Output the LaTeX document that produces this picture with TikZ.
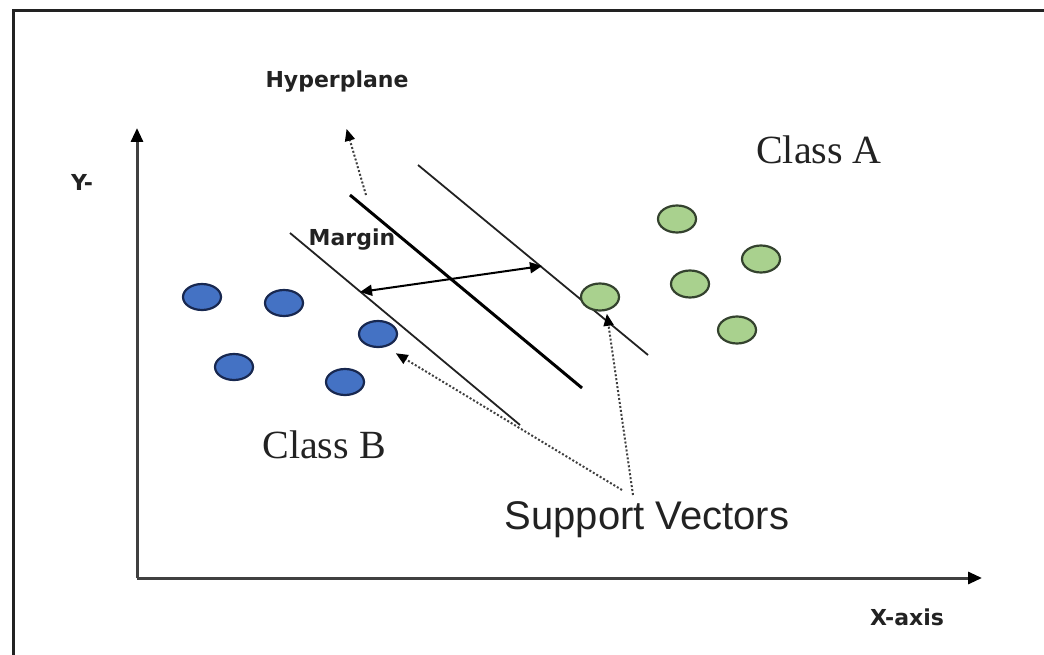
\documentclass[tikz,border=0pt]{standalone}
\usepackage{fontspec}
\setmainfont{Liberation Serif}
\newfontfamily\labelfont{DejaVu Sans}
\newfontfamily\vecfont{Liberation Sans}
\usetikzlibrary{arrows.meta,shapes.geometric,positioning}
\definecolor{svmBlue}{RGB}{68,114,196}
\definecolor{svmBlueDark}{RGB}{24,40,80}
\definecolor{svmGreen}{RGB}{169,209,142}
\definecolor{svmGreenDark}{RGB}{52,66,46}
\definecolor{svmGray}{RGB}{64,64,64}
\definecolor{svmInk}{RGB}{34,34,34}

\begin{document}
\begin{tikzpicture}[x=1pt,y=-1pt,
    classb/.style={ellipse,draw=svmBlueDark,fill=svmBlue,line width=2.2pt,
        minimum width=38pt,minimum height=26pt,inner sep=0pt},
    classa/.style={ellipse,draw=svmGreenDark,fill=svmGreen,line width=2.2pt,
        minimum width=38pt,minimum height=27pt,inner sep=0pt},
    axis/.style={svmGray,line width=3pt,-{Triangle[length=14pt,width=12pt,color=black]}},
    marginline/.style={svmInk,line width=1.8pt},
    hyperline/.style={black,line width=3pt},
    dotarrow/.style={svmGray,line width=2pt,dash pattern=on 2pt off 2pt,
        -{Triangle[length=12pt,width=10pt,color=black]}},
    smalllabel/.style={text=svmInk,font=\labelfont\bfseries\fontsize{22}{26}\selectfont},
    biglabel/.style={text=svmInk,font=\fontsize{40}{48}\selectfont}]

    \useasboundingbox (0,0) rectangle (1044,655);

    % frame
    \draw[svmInk, line width=3pt] (13,655) -- (13,11) -- (1044,11);

    % axes
    \coordinate (origin) at (137,578);
    \coordinate (ytip) at (137,128);
    \coordinate (xtip) at (982,578);
    \draw[axis] (origin) -- (ytip);
    \draw[axis] (origin) -- (xtip);
    \node[smalllabel] (ylab) at (82,182) {Y-};
    \node[smalllabel] (xlab) at (907,617) {X-axis};

    % margin lines and hyperplane
    \coordinate (u1) at (418,165);
    \coordinate (u2) at (648,355);
    \coordinate (h1) at (350,195);
    \coordinate (h2) at (582,388);
    \coordinate (l1) at (290,233);
    \coordinate (l2) at (520,425);
    \draw[marginline] (u1) -- (u2);
    \draw[hyperline] (h1) -- (h2);
    \draw[marginline] (l1) -- (l2);

    % margin arrow
    \coordinate (mlow) at (360,292);
    \coordinate (mup) at (542,266);
    \draw[black, line width=2pt, {Triangle[length=12pt,width=11pt]}-{Triangle[length=12pt,width=11pt]}] (mlow) -- (mup);
    \node[smalllabel] (margin) at (352,240) {Margin};

    % class B points
    \node[classb] (b1) at (202,297) {};
    \node[classb] (b2) at (284,303) {};
    \node[classb] (b3) at (378,334) {};
    \node[classb] (b4) at (234,367) {};
    \node[classb] (b5) at (345,382) {};

    % class A points
    \node[classa] (a1) at (600,297) {};
    \node[classa] (a2) at (677,219) {};
    \node[classa] (a3) at (761,259) {};
    \node[classa] (a4) at (690,284) {};
    \node[classa] (a5) at (737,330) {};

    % labels
    \node[smalllabel] (hyper) at (337,82) {Hyperplane};
    \node[biglabel] (classA) at (819,150) {Class A};
    \node[biglabel] (classB) at (324,445) {Class B};
    \node[text=svmInk, font=\vecfont\fontsize{40}{48}\selectfont] (sv) at (647,520) {Support Vectors};

    % pointers
    \coordinate (hfoot) at (366,195);
    \draw[dotarrow, shorten >=34pt] (hfoot) -- (hyper.south);
    \coordinate (svleft) at (622,490);
    \coordinate (svright) at (633,495);
    \draw[dotarrow, shorten >=12pt] (svleft) -- (b3.-60);
    \draw[dotarrow, shorten >=3pt] (svright) -- (a1.-65);

\end{tikzpicture}
\end{document}
